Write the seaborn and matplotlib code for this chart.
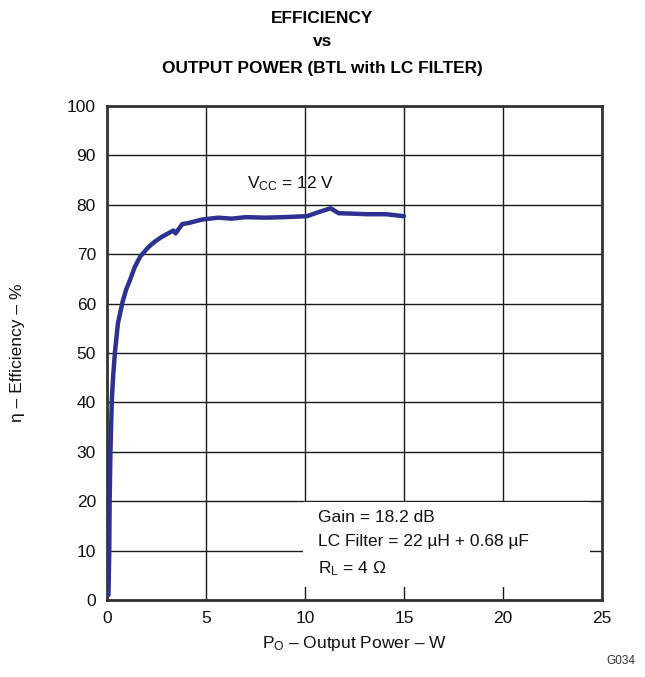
import matplotlib
matplotlib.use("Agg")
import matplotlib.pyplot as plt
from matplotlib.patches import Rectangle
import seaborn as sns
import pandas as pd

# =====================================================
# Data
# =====================================================

power_w = [0.07, 0.11, 0.13, 0.17, 0.24, 0.31, 0.4, 0.55, 0.78, 0.96, 1.16, 1.4,
           1.67, 2.08, 2.4, 2.76, 3.35, 3.46, 3.8, 4.1, 4.78, 5.6, 6.3, 7.0, 8.0,
           8.9, 10.1, 10.6, 11.3, 11.7, 12.5, 13.1, 14.1, 15.0]
efficiency = [1.0, 10.0, 20.0, 30.0, 40.5, 45.5, 50.3, 56.0, 60.3, 62.8, 64.8, 67.4,
              69.5, 71.4, 72.5, 73.5, 74.8, 74.2, 76.1, 76.3, 77.0, 77.4, 77.2, 77.5,
              77.4, 77.5, 77.7, 78.4, 79.3, 78.3, 78.2, 78.1, 78.1, 77.7]

x_ticks = [0, 5, 10, 15, 20, 25]
y_ticks = [0, 10, 20, 30, 40, 50, 60, 70, 80, 90, 100]

df = pd.DataFrame({"P": power_w, "Eff": efficiency})

# =====================================================
# Style
# =====================================================

sns.set_theme(style="white")
plt.rcParams["font.family"] = ["Liberation Sans", "DejaVu Sans"]
plt.rcParams["mathtext.fontset"] = "custom"
plt.rcParams["mathtext.rm"] = "Liberation Sans"
plt.rcParams["mathtext.it"] = "Liberation Sans"
plt.rcParams["text.color"] = "#111111"

fig = plt.figure(figsize=(6.45, 6.77), dpi=100)
ax = fig.add_axes([0.166, 0.1137, 0.767, 0.7297])

sns.lineplot(data=df, x="P", y="Eff", ax=ax, color="#2e3192", linewidth=3.2,
             sort=False, zorder=4)

ax.set_xlim(0, 25)
ax.set_ylim(0, 100)
ax.set_xticks(x_ticks)
ax.set_yticks(y_ticks)
ax.tick_params(labelsize=12.5, colors="#111111", length=0, pad=8)
ax.grid(True, color="#1a1a1a", linewidth=1.0)
ax.set_axisbelow(True)
for s in ax.spines.values():
    s.set_color("#333333")
    s.set_linewidth(2.0)

ax.set_xlabel(r"$\mathregular{P_O}$ – Output Power – W", fontsize=12.5,
              color="#111111", labelpad=6)
ax.set_ylabel("η – Efficiency – %", fontsize=12.5, color="#111111", labelpad=30)

fig.text(0.5, 0.972, "EFFICIENCY", ha="center", va="center",
         fontsize=12.4, fontweight="bold", color="black")
fig.text(0.5, 0.939, "vs", ha="center", va="center",
         fontsize=12.4, fontweight="bold", color="black")
fig.text(0.5, 0.899, "OUTPUT POWER (BTL with LC FILTER)", ha="center",
         va="center", fontsize=12.4, fontweight="bold", color="black")

ax.text(7.05, 84.2, r"$\mathregular{V_{CC}}$ = 12 V", fontsize=12.5,
        color="#111111", va="center", ha="left")

# white panel behind the conditions text (covers the grid)
ax.add_patch(Rectangle((9.9, 2.6), 14.5, 17.2, facecolor="white",
                       edgecolor="none", zorder=2))
ax.text(10.65, 11.4,
        "Gain = 18.2 dB\nLC Filter = 22 µH + 0.68 µF\n"
        r"$\mathregular{R_L}$ = 4 Ω",
        fontsize=12.5, color="#111111", va="center", ha="left",
        linespacing=1.75, zorder=3)

fig.text(0.962, 0.015, "G034", ha="center", va="bottom", fontsize=8.5,
         color="#333333")

fig.savefig("out.png", dpi=100)
plt.close(fig)
